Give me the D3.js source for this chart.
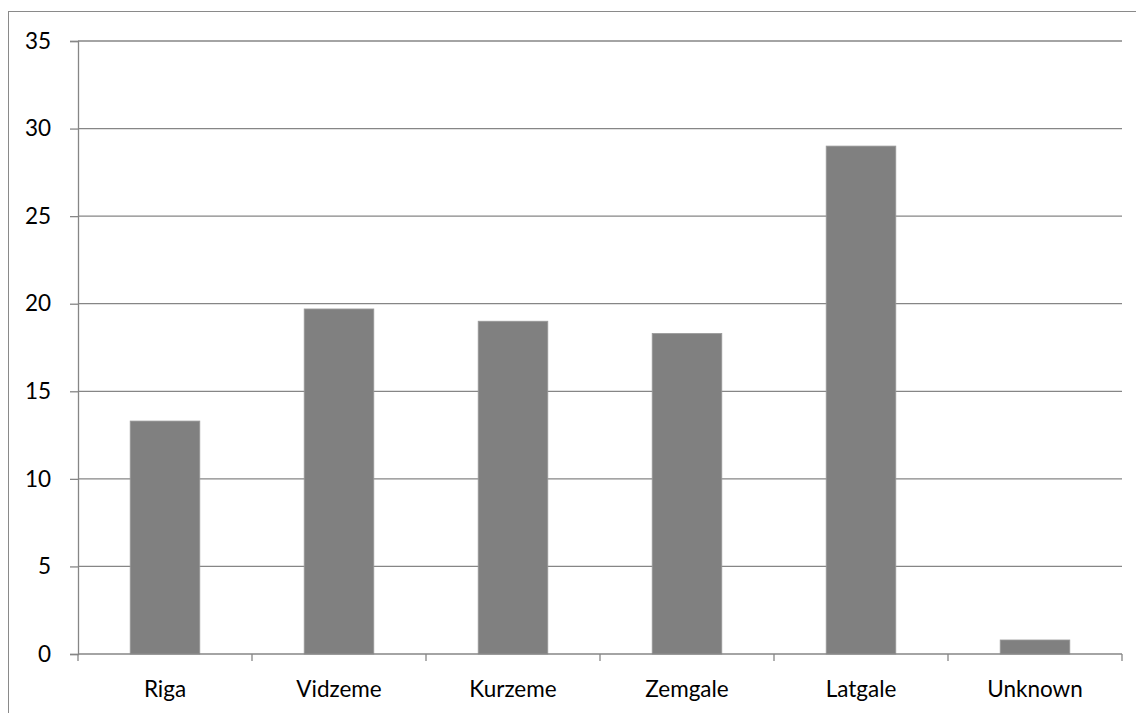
<!DOCTYPE html>
<html>
<head>
<meta charset="utf-8">
<script src="https://cdn.jsdelivr.net/npm/d3@7"></script>
<style>
  html, body { margin: 0; padding: 0; background: #fff; }
  svg { display: block; }
  text { font-family: Lato, "Open Sans", "Liberation Sans", sans-serif; fill: #000; }
</style>
</head>
<body>
<svg id="chart" width="1136" height="713"></svg>
<script>
// Regions and their values
const regions = ["Riga", "Vidzeme", "Kurzeme", "Zemgale", "Latgale", "Unknown"];
const values = [13.3, 19.7, 19.0, 18.3, 29.0, 0.8];
const yTicks = [0, 5, 10, 15, 20, 25, 30, 35];

const svg = d3.select("#chart");
const W = 1136, H = 713;
const plot = { left: 78, right: 1122, top: 41, bottom: 654 };
const FONT = "Lato, Open Sans, Liberation Sans, sans-serif";
const FS = 22.5;

// Outer chart frame (runs past the right and bottom edges)
svg.append("rect")
  .attr("x", 8.5).attr("y", 11.5)
  .attr("width", W + 10).attr("height", H + 10)
  .attr("fill", "none")
  .attr("stroke", "#8a8a8a")
  .attr("stroke-width", 1);

const x = d3.scaleBand()
  .domain(regions)
  .range([plot.left, plot.right])
  .paddingInner(0.6)
  .paddingOuter(0.3);

const y = d3.scaleLinear()
  .domain([0, 35])
  .range([plot.bottom, plot.top]);

// Horizontal gridlines
svg.append("g")
  .selectAll("line")
  .data(yTicks.filter(t => t > 0))
  .join("line")
  .attr("x1", plot.left).attr("x2", plot.right)
  .attr("y1", d => y(d)).attr("y2", d => y(d))
  .attr("stroke", "#868686")
  .attr("stroke-width", 1.3);

// Y axis
const yAxis = d3.axisLeft(y)
  .tickValues(yTicks)
  .tickSize(8)
  .tickPadding(19)
  .tickFormat(d3.format("d"));
const gy = svg.append("g")
  .attr("transform", `translate(${plot.left},0)`)
  .call(yAxis);
gy.attr("font-family", FONT).attr("font-size", FS);
gy.select(".domain").attr("stroke", "#868686").attr("stroke-width", 1.3);
gy.selectAll(".tick line").attr("stroke", "#868686").attr("stroke-width", 1.3);
gy.selectAll(".tick text").attr("fill", "#000");

// Bars
svg.append("g")
  .selectAll("rect")
  .data(regions.map((r, i) => ({ r, v: values[i] })))
  .join("rect")
  .attr("x", d => x(d.r))
  .attr("width", x.bandwidth())
  .attr("y", d => y(d.v))
  .attr("height", d => y(0) - y(d.v))
  .attr("fill", "#808080")
  .attr("stroke", "#9a9a9a")
  .attr("stroke-width", 0.8);

// X axis with ticks at category boundaries
const bounds = d3.range(regions.length + 1).map(i => plot.left + i * (plot.right - plot.left) / regions.length);
const gx = svg.append("g");
gx.append("line")
  .attr("x1", plot.left).attr("x2", plot.right)
  .attr("y1", y(0)).attr("y2", y(0))
  .attr("stroke", "#868686").attr("stroke-width", 1.3);
gx.selectAll("line.tk")
  .data(bounds)
  .join("line")
  .attr("class", "tk")
  .attr("x1", d => d).attr("x2", d => d)
  .attr("y1", y(0)).attr("y2", y(0) + 7)
  .attr("stroke", "#868686").attr("stroke-width", 1.3);
gx.selectAll("text")
  .data(regions)
  .join("text")
  .attr("x", d => x(d) + x.bandwidth() / 2)
  .attr("y", 697)
  .attr("text-anchor", "middle")
  .attr("font-family", FONT)
  .attr("font-size", FS)
  .text(d => d);
</script>
</body>
</html>
